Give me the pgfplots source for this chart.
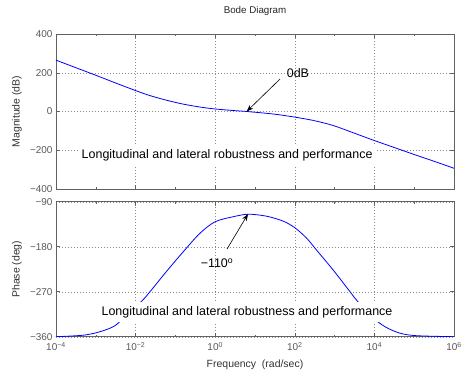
\documentclass[border=0pt]{standalone}
\usepackage{fontspec}
\setmainfont{Liberation Sans}
\usepackage{pgfplots}
\pgfplotsset{compat=1.18}
\usetikzlibrary{arrows.meta}
\definecolor{axgray}{gray}{0.38}
\definecolor{txtgray}{gray}{0.35}
\definecolor{gridgray}{gray}{0.55}
\begin{document}
\begin{tikzpicture}[x=1bp,y=1bp]
\path[use as bounding box] (-56bp,34bp) rectangle (409bp,-342bp);
\node[font=\fontsize{9.8}{11}\selectfont, text=black!85] at (199bp,23bp) {Bode Diagram};
\begin{axis}[
  xmode=log, scale only axis, width=398bp, xmin=1e-4, xmax=1e6,
  xtick={1e-4,1e-2,1,1e2,1e4,1e6},
  minor xtick={1e-3,1e-1,1e1,1e3,1e5},
  tick align=inside, major tick length=4bp, minor tick length=2bp,
  xmajorgrids, ymajorgrids,
  major grid style={gridgray, line width=0.4pt, dash pattern=on 0.6bp off 2.4bp},
  axis line style={axgray, line width=0.9pt},
  tick style={axgray, line width=0.5pt},
  tick label style={font=\fontsize{10}{11}\selectfont, text=txtgray},
  label style={font=\fontsize{10.5}{12}\selectfont, text=black!80},
  at={(0bp,0bp)}, anchor=north west, height=155bp,
  ymin=-400, ymax=400, ytick={-400,-200,0,200,400},
  yticklabels={−400,−200,0,200,400},
  xticklabels={},
  ylabel={Magnitude (dB)},
  ylabel style={at={(axis description cs:-0.098,0.5)}, anchor=center},
]
\addplot[blue, line width=0.8pt, smooth, tension=0.5] coordinates {
(1e-4,265)(3.162e-4,226)(1e-3,187)(3.162e-3,147)(0.01,108)(0.02301,82)(0.06039,58)(0.1581,38)(0.4150,23)(1,13)(2.858,5)(6.166,0)(28.84,-13)(100,-29)(288.4,-46)(758.6,-67)(1349,-84)(3548,-116)(10000,-150)(31623,-186)(100000,-222)(316228,-257)(1e6,-293)
};
\node[fill=white, inner xsep=2bp, inner ysep=4bp, font=\fontsize{12.5}{14}\selectfont] at (axis cs:1.995,-224) {Longitudinal and lateral robustness and performance};
\draw[black, line width=0.6pt, -{Stealth[length=7bp,width=5bp]}] (axis cs:42.7,168) -- (axis cs:6.166,0);
\node[font=\fontsize{12.5}{14}\selectfont] at (axis cs:120,199) {0dB};
\end{axis}
\begin{axis}[
  xmode=log, scale only axis, width=398bp, xmin=1e-4, xmax=1e6,
  xtick={1e-4,1e-2,1,1e2,1e4,1e6},
  minor xtick={1e-3,1e-1,1e1,1e3,1e5},
  tick align=inside, major tick length=4bp, minor tick length=2bp,
  xmajorgrids, ymajorgrids,
  major grid style={gridgray, line width=0.4pt, dash pattern=on 0.6bp off 2.4bp},
  axis line style={axgray, line width=0.9pt},
  tick style={axgray, line width=0.5pt},
  tick label style={font=\fontsize{10}{11}\selectfont, text=txtgray},
  label style={font=\fontsize{10.5}{12}\selectfont, text=black!80},
  at={(0bp,-167.7bp)}, anchor=north west, height=135bp,
  ymin=-360, ymax=-90, ytick={-360,-270,-180,-90},
  yticklabels={−360,−270,−180,−90},
  xticklabels={10\textsuperscript{−4},10\textsuperscript{−2},10\textsuperscript{0},10\textsuperscript{2},10\textsuperscript{4},10\textsuperscript{6}},
  xticklabel style={yshift=-2bp},
  xlabel={Frequency~~(rad/sec)},
  xlabel style={at={(axis description cs:0.5,-0.21)}, anchor=center},
  ylabel={Phase (deg)},
  ylabel style={at={(axis description cs:-0.098,0.5)}, anchor=center},
]
\addplot[blue, line width=0.8pt, smooth, tension=0.5] coordinates {
(1e-4,-360)(4.864e-4,-357)(1.276e-3,-350)(3.034e-3,-338)(6.31e-3,-314)(0.01419,-289)(0.02301,-270)(0.06039,-229)(0.1581,-190)(0.4150,-153)(1,-130)(2.858,-120)(6.808,-115)(19.63,-119)(51.52,-129)(100,-142)(198.6,-163)(354.0,-187)(929,-227)(2438,-270)(3581,-287)(7943,-318)(18450,-340)(43950,-353)(115350,-358)(1e6,-360)
};
\node[fill=white, inner xsep=2bp, inner ysep=4bp, font=\fontsize{12.5}{14}\selectfont] at (axis cs:6.3,-310.6) {Longitudinal and lateral robustness and performance};
\draw[black, line width=0.6pt, -{Stealth[length=7bp,width=5bp]}] (axis cs:1.98,-184.6) -- (axis cs:6.67,-114.6);
\node[font=\fontsize{12.5}{14}\selectfont] at (axis cs:1.11,-212.6) {−110\textsuperscript{o}};
\end{axis}
\end{tikzpicture}
\end{document}
